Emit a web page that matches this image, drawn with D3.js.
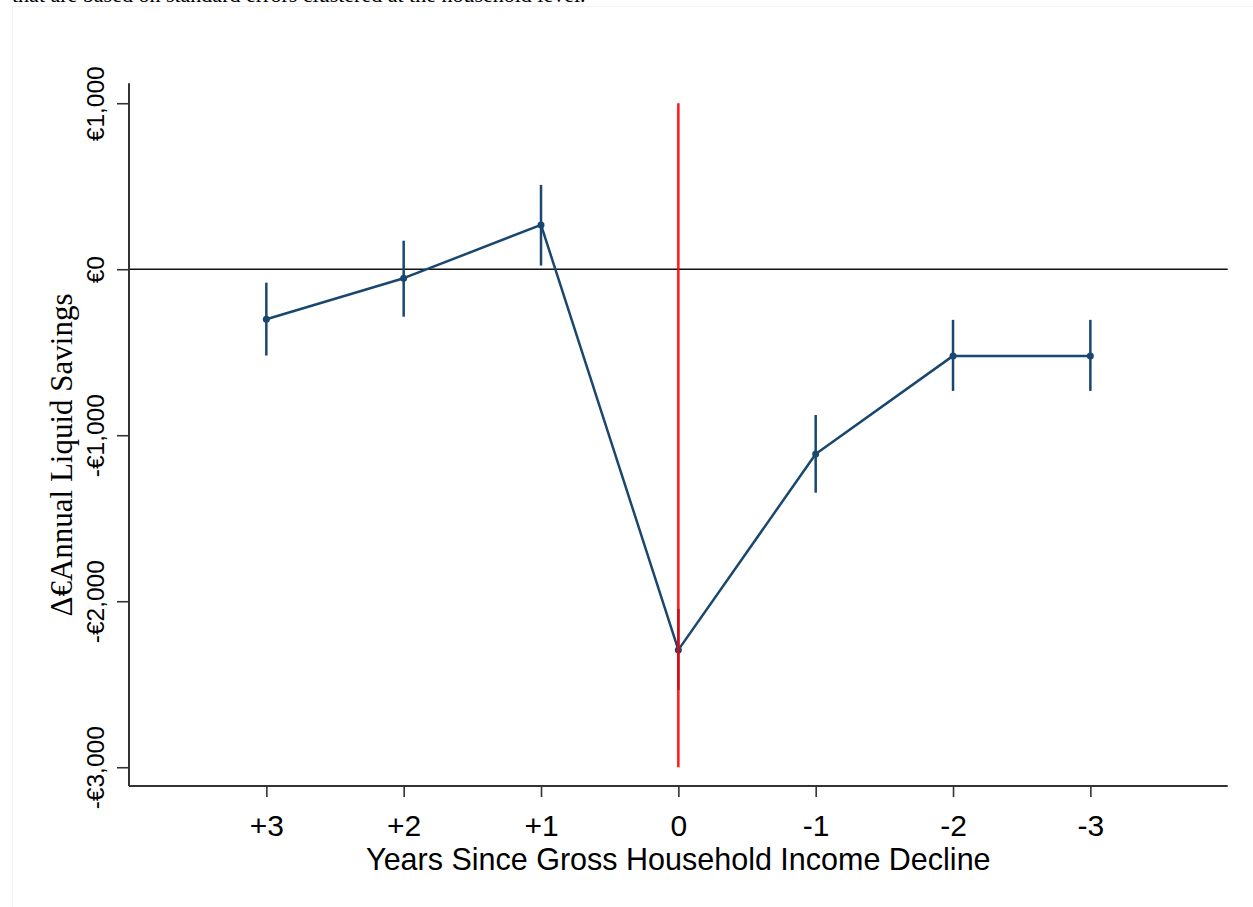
<!DOCTYPE html>
<html>
<head>
<meta charset="utf-8">
<script src="https://cdn.jsdelivr.net/npm/d3@7"></script>
<style>
  html, body { margin: 0; padding: 0; background: #fff; }
  svg { display: block; }
</style>
</head>
<body>
<svg id="chart" width="1253" height="907"></svg>
<script>
const categories = ["+3", "+2", "+1", "0", "-1", "-2", "-3"];
const estimates  = [-301, -54, 267, -2293, -1113, -522, -522];
const ciLow      = [-520, -286, 22, -2534, -1346, -733, -733];
const ciHigh     = [-81, 172, 508, -2046, -878, -305, -305];
const yTicks     = [1000, 0, -1000, -2000, -3000];
const yDomain    = [-3113, 1120];
const eventLine  = { at: "0", from: 1000, to: -3000 };
const xTitle = "Years Since Gross Household Income Decline";
const yTitle = "Δ€Annual Liquid Savings";
const topNote = "that are based on standard errors clustered at the household level.";

(function () {
const svg = d3.select("#chart");
const plotL = 129, plotR = 1227.7, plotT = 83.3, plotB = 786;

const x = d3.scalePoint().domain(categories).range([plotL, plotR]).padding(1);
const y = d3.scaleLinear().domain(yDomain).range([plotB, plotT]);

const blue = "#1a476f";

// faint page frame
svg.append("path").attr("d", "M12.5,907 V6.5 H1253")
  .attr("fill", "none").attr("stroke", "#f2f2f2").attr("stroke-width", 1);

// cut-off note at top (only its lower edge is visible in the reference)
svg.append("text").attr("x", 12).attr("y", 2)
  .attr("font-family", "Liberation Serif, Times New Roman, serif")
  .attr("font-size", 22).attr("fill", "#000").text(topNote);

// zero line
svg.append("line")
  .attr("x1", plotL).attr("x2", plotR)
  .attr("y1", y(0)).attr("y2", y(0))
  .attr("stroke", "#111").attr("stroke-width", 1.4);

// y axis
const yAxis = d3.axisLeft(y).tickValues(yTicks).tickSize(12)
  .tickFormat(d => (d < 0 ? "-€" : "€") + d3.format(",")(Math.abs(d)));
const gy = svg.append("g").attr("transform", `translate(${plotL},0)`).call(yAxis);
gy.select(".domain").attr("d", `M0,${plotT}V${plotB}`).attr("stroke", "#333").attr("stroke-width", 2);
gy.selectAll(".tick line").attr("stroke", "#333").attr("stroke-width", 1.6);
gy.selectAll(".tick text")
  .attr("transform", "rotate(-90)")
  .attr("x", 0).attr("y", -25).attr("dy", 0)
  .attr("text-anchor", "middle")
  .attr("font-family", "Liberation Sans, Arial, sans-serif")
  .attr("font-size", 24.5).attr("fill", "#000");

// x axis
const xAxis = d3.axisBottom(x).tickSize(11);
const gx = svg.append("g").attr("transform", `translate(0,${plotB})`).call(xAxis);
gx.select(".domain").attr("d", `M${plotL},0H${plotR}`).attr("stroke", "#333").attr("stroke-width", 2);
gx.selectAll(".tick line").attr("stroke", "#333").attr("stroke-width", 1.6);
gx.selectAll(".tick text")
  .attr("y", 50).attr("dy", 0)
  .attr("font-family", "Liberation Sans, Arial, sans-serif")
  .attr("font-size", 30).attr("fill", "#000");

// axis titles
svg.append("text")
  .attr("x", (plotL + plotR) / 2).attr("y", 870)
  .attr("text-anchor", "middle")
  .attr("font-family", "Liberation Sans, Arial, sans-serif")
  .attr("font-size", 30.5).attr("fill", "#000").text(xTitle);

svg.append("text")
  .attr("transform", "translate(72,455) rotate(-90)")
  .attr("text-anchor", "middle")
  .attr("font-family", "Liberation Serif, Times New Roman, serif")
  .attr("font-size", 31).attr("fill", "#000").text(yTitle);

// error bars
svg.append("g").selectAll("line").data(categories).join("line")
  .attr("x1", d => x(d)).attr("x2", d => x(d))
  .attr("y1", (d, i) => y(ciLow[i])).attr("y2", (d, i) => y(ciHigh[i]))
  .attr("stroke", blue).attr("stroke-width", 2.5);

// connected line
const line = d3.line().x((d, i) => x(categories[i])).y(d => y(d));
svg.append("path").datum(estimates)
  .attr("d", line).attr("fill", "none")
  .attr("stroke", blue).attr("stroke-width", 2.5).attr("stroke-linejoin", "round");

// markers
svg.append("g").selectAll("circle").data(estimates).join("circle")
  .attr("cx", (d, i) => x(categories[i])).attr("cy", d => y(d))
  .attr("r", 3.5).attr("fill", blue);

// red event line
svg.append("line")
  .attr("x1", x(eventLine.at)).attr("x2", x(eventLine.at))
  .attr("y1", y(eventLine.from)).attr("y2", y(eventLine.to))
  .attr("stroke", "#ff0000").attr("stroke-width", 2.6).attr("stroke-opacity", 0.88);
})();
</script>
</body>
</html>
